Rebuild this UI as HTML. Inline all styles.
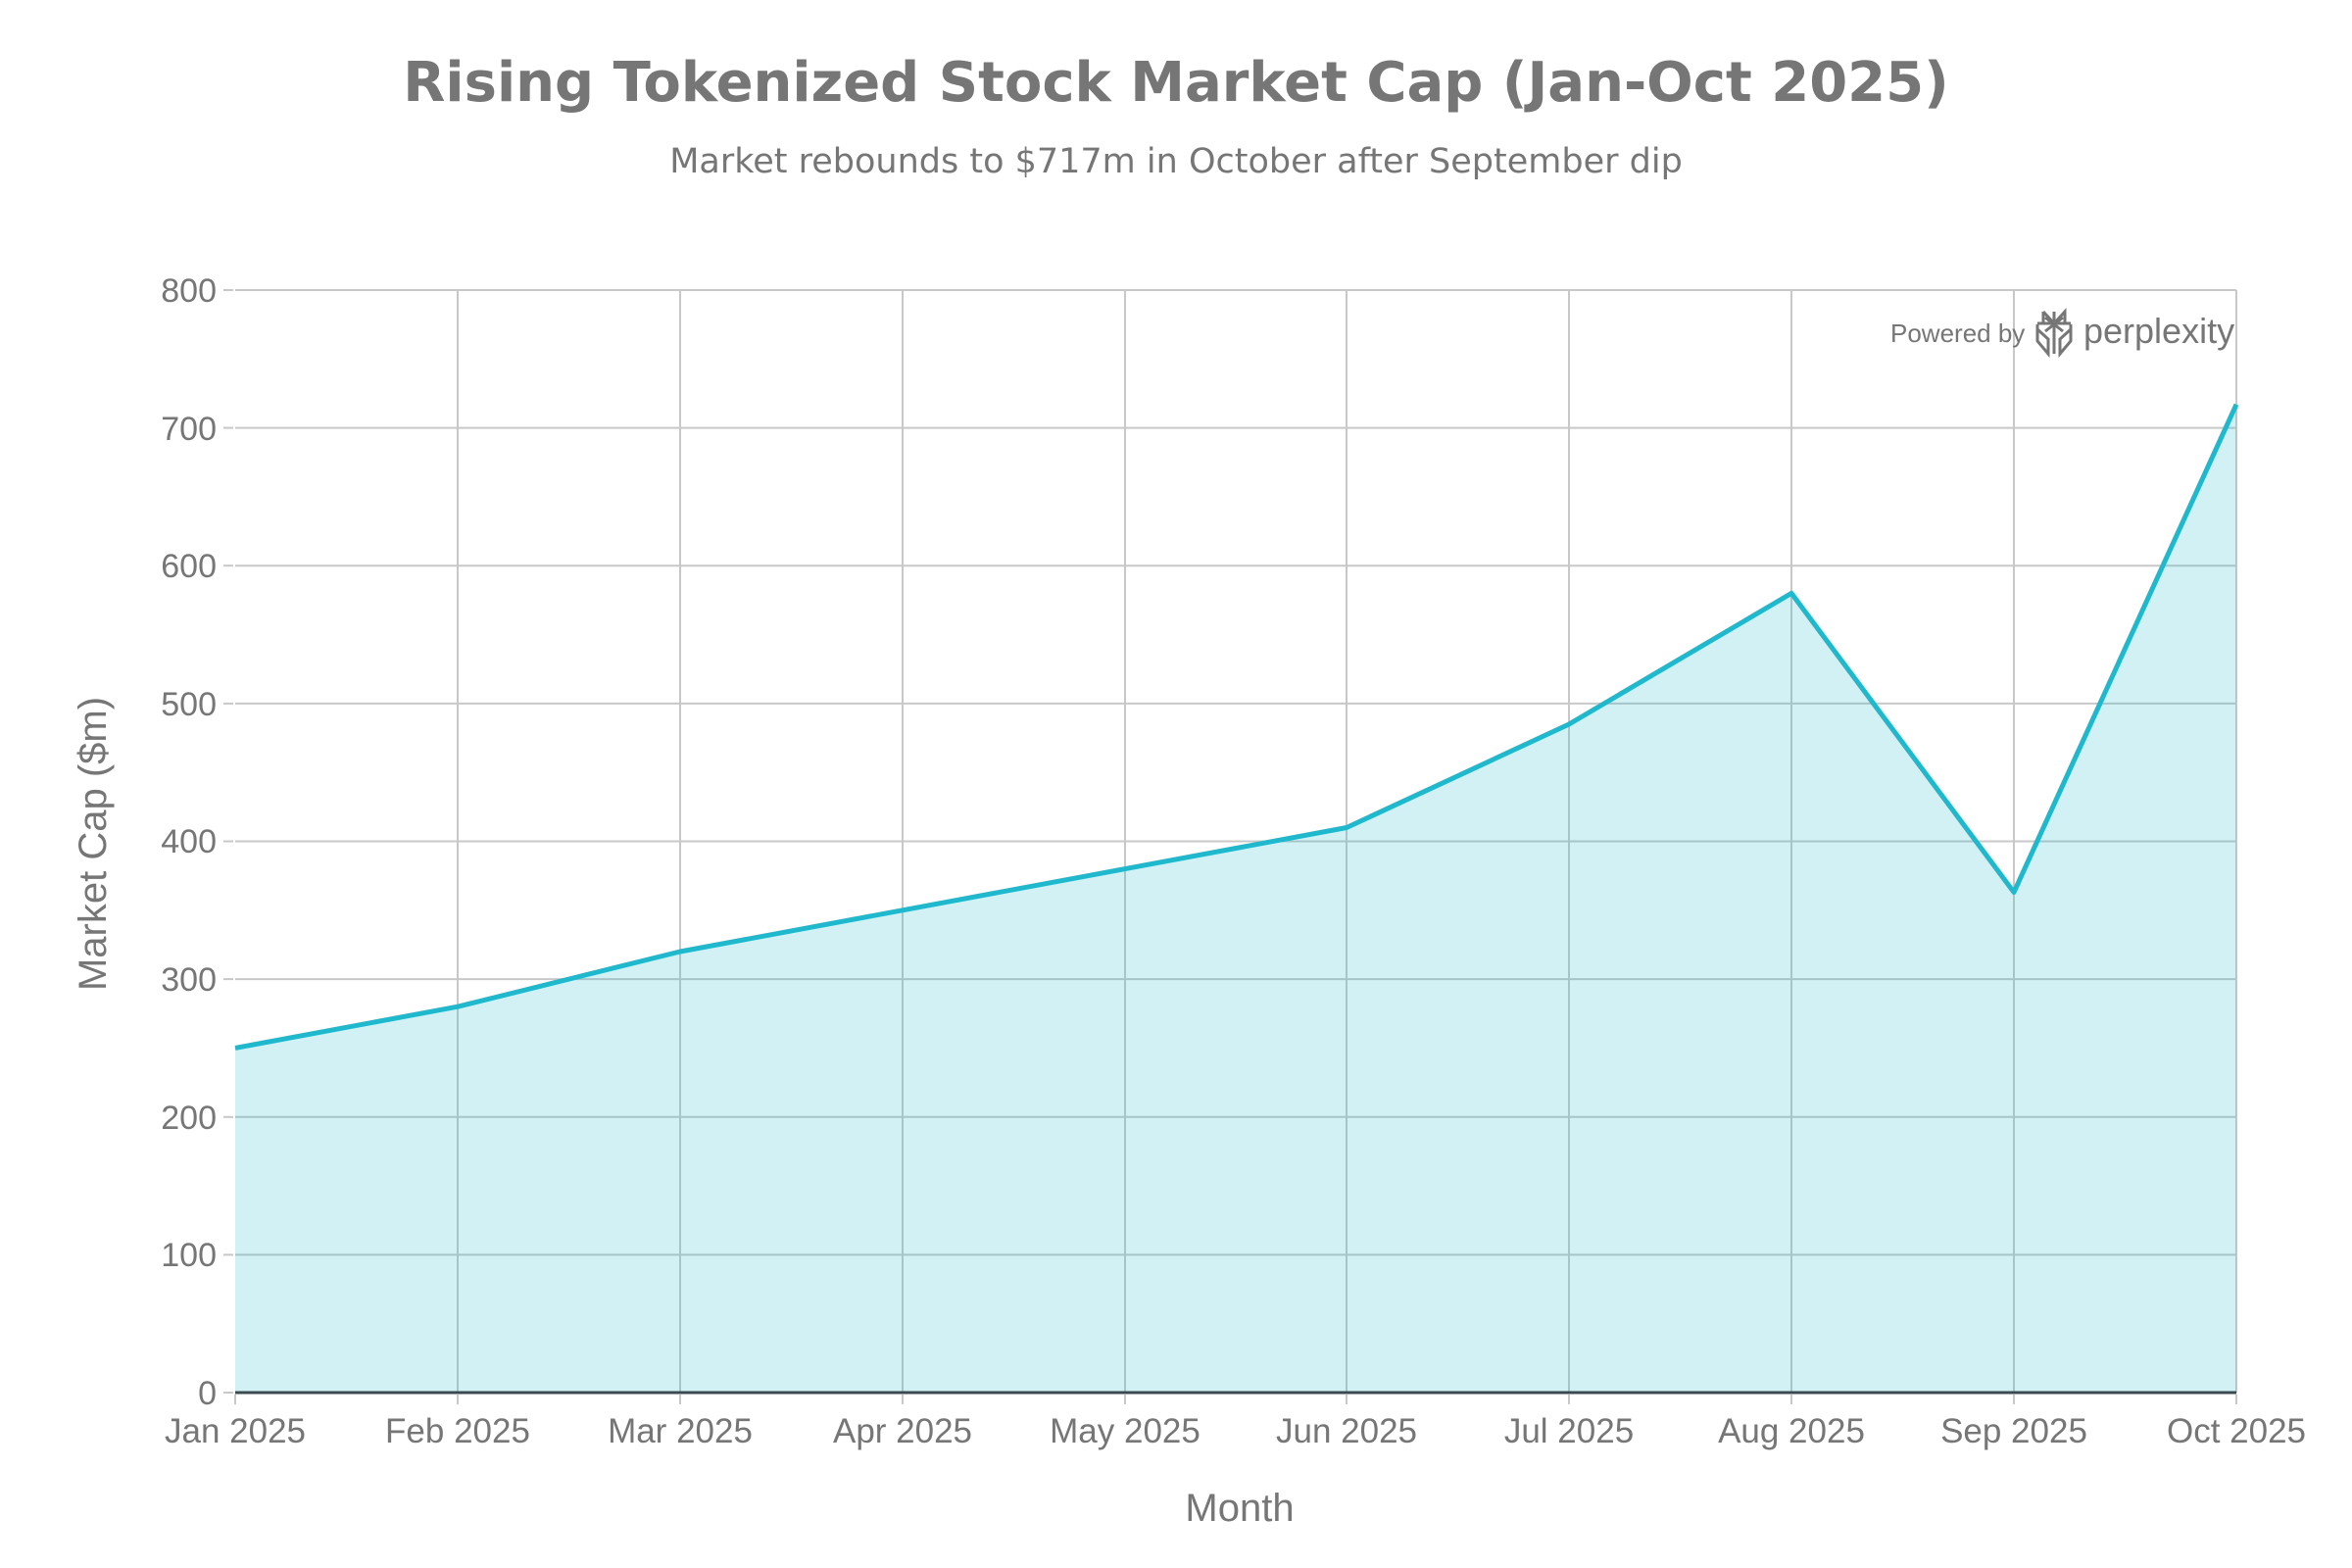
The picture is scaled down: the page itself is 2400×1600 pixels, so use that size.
<!DOCTYPE html>
<html><head><meta charset="utf-8"><style>
html,body{margin:0;padding:0;background:#fff;}
svg{display:block;}
</style></head><body>
<svg width="2400" height="1600" viewBox="0 0 2400 1600" xmlns="http://www.w3.org/2000/svg">
<rect width="2400" height="1600" fill="#fff"/>
<text x="1200" y="103" text-anchor="middle" font-family="DejaVu Sans, sans-serif" font-weight="bold" font-size="56" fill="#767676">Rising Tokenized Stock Market Cap (Jan-Oct 2025)</text>
<text x="1200" y="176" text-anchor="middle" font-family="DejaVu Sans, sans-serif" font-size="35" fill="#767676">Market rebounds to $717m in October after September dip</text>
<g stroke="#c8c8c8" stroke-width="2">
<line x1="240" y1="296" x2="2282" y2="296"/>
<line x1="240" y1="436.6" x2="2282" y2="436.6"/>
<line x1="240" y1="577.2" x2="2282" y2="577.2"/>
<line x1="240" y1="717.9" x2="2282" y2="717.9"/>
<line x1="240" y1="858.5" x2="2282" y2="858.5"/>
<line x1="240" y1="999.1" x2="2282" y2="999.1"/>
<line x1="240" y1="1139.8" x2="2282" y2="1139.8"/>
<line x1="240" y1="1280.4" x2="2282" y2="1280.4"/>
<line x1="467" y1="296" x2="467" y2="1421"/>
<line x1="694" y1="296" x2="694" y2="1421"/>
<line x1="921" y1="296" x2="921" y2="1421"/>
<line x1="1148" y1="296" x2="1148" y2="1421"/>
<line x1="1374" y1="296" x2="1374" y2="1421"/>
<line x1="1601" y1="296" x2="1601" y2="1421"/>
<line x1="1828" y1="296" x2="1828" y2="1421"/>
<line x1="2055" y1="296" x2="2055" y2="1421"/>
<line x1="2282" y1="296" x2="2282" y2="1421"/>
<line x1="228" y1="296" x2="238" y2="296"/>
<line x1="228" y1="436.6" x2="238" y2="436.6"/>
<line x1="228" y1="577.2" x2="238" y2="577.2"/>
<line x1="228" y1="717.9" x2="238" y2="717.9"/>
<line x1="228" y1="858.5" x2="238" y2="858.5"/>
<line x1="228" y1="999.1" x2="238" y2="999.1"/>
<line x1="228" y1="1139.8" x2="238" y2="1139.8"/>
<line x1="228" y1="1280.4" x2="238" y2="1280.4"/>
<line x1="228" y1="1421" x2="238" y2="1421"/>
<line x1="240" y1="1423" x2="240" y2="1433"/>
<line x1="467" y1="1423" x2="467" y2="1433"/>
<line x1="694" y1="1423" x2="694" y2="1433"/>
<line x1="921" y1="1423" x2="921" y2="1433"/>
<line x1="1148" y1="1423" x2="1148" y2="1433"/>
<line x1="1374" y1="1423" x2="1374" y2="1433"/>
<line x1="1601" y1="1423" x2="1601" y2="1433"/>
<line x1="1828" y1="1423" x2="1828" y2="1433"/>
<line x1="2055" y1="1423" x2="2055" y2="1433"/>
<line x1="2282" y1="1423" x2="2282" y2="1433"/>
</g>
<polygon fill="#1fb8cd" fill-opacity="0.2" points="240,1069.4 467,1027.2 694,971 921,928.8 1148,886.6 1374,844.5 1601,739 1828,605.4 2055,910.5 2282,412.7 2282,1421 240,1421"/>
<polyline fill="none" stroke="#1fb8cd" stroke-width="5" stroke-linejoin="round" points="240,1069.4 467,1027.2 694,971 921,928.8 1148,886.6 1374,844.5 1601,739 1828,605.4 2055,910.5 2282,412.7"/>
<line x1="240" y1="1421" x2="2282" y2="1421" stroke="#3a4a50" stroke-width="3"/>
<g font-family="Liberation Sans, sans-serif" font-size="34" fill="#767676" text-anchor="end">
<text x="221" y="308">800</text>
<text x="221" y="449">700</text>
<text x="221" y="589">600</text>
<text x="221" y="730">500</text>
<text x="221" y="870">400</text>
<text x="221" y="1011">300</text>
<text x="221" y="1152">200</text>
<text x="221" y="1292">100</text>
<text x="221" y="1433">0</text>
</g>
<g font-family="Liberation Sans, sans-serif" font-size="35" fill="#767676" text-anchor="middle">
<text x="240" y="1472">Jan 2025</text>
<text x="467" y="1472">Feb 2025</text>
<text x="694" y="1472">Mar 2025</text>
<text x="921" y="1472">Apr 2025</text>
<text x="1148" y="1472">May 2025</text>
<text x="1374" y="1472">Jun 2025</text>
<text x="1601" y="1472">Jul 2025</text>
<text x="1828" y="1472">Aug 2025</text>
<text x="2055" y="1472">Sep 2025</text>
<text x="2282" y="1472">Oct 2025</text>
</g>
<text x="1265" y="1552" text-anchor="middle" font-family="Liberation Sans, sans-serif" font-size="40" fill="#767676">Month</text>
<text transform="translate(108,861) rotate(-90)" text-anchor="middle" font-family="Liberation Sans, sans-serif" font-size="40" fill="#767676">Market Cap ($m)</text>
<text x="1929" y="349" font-family="Liberation Sans, sans-serif" font-size="26" fill="#767676">Powered by</text>
<g stroke="#767676" stroke-width="3" fill="none">
<path d="M2079,331 L2079,348 L2090,361 L2090,346 L2079,336 M2113,331 L2113,348 L2102,361 L2102,346 L2113,336 M2096,318 L2096,361 M2085,318 L2096,330 L2107,318 L2107,330 M2085,318 L2085,330 M2079,330 L2113,330 M2087,338 L2105,324 M2087,324 L2105,338"/>
</g>
<text x="2126" y="350" font-family="Liberation Sans, sans-serif" font-size="36" fill="#767676">perplexity</text>
</svg>
</body></html>
